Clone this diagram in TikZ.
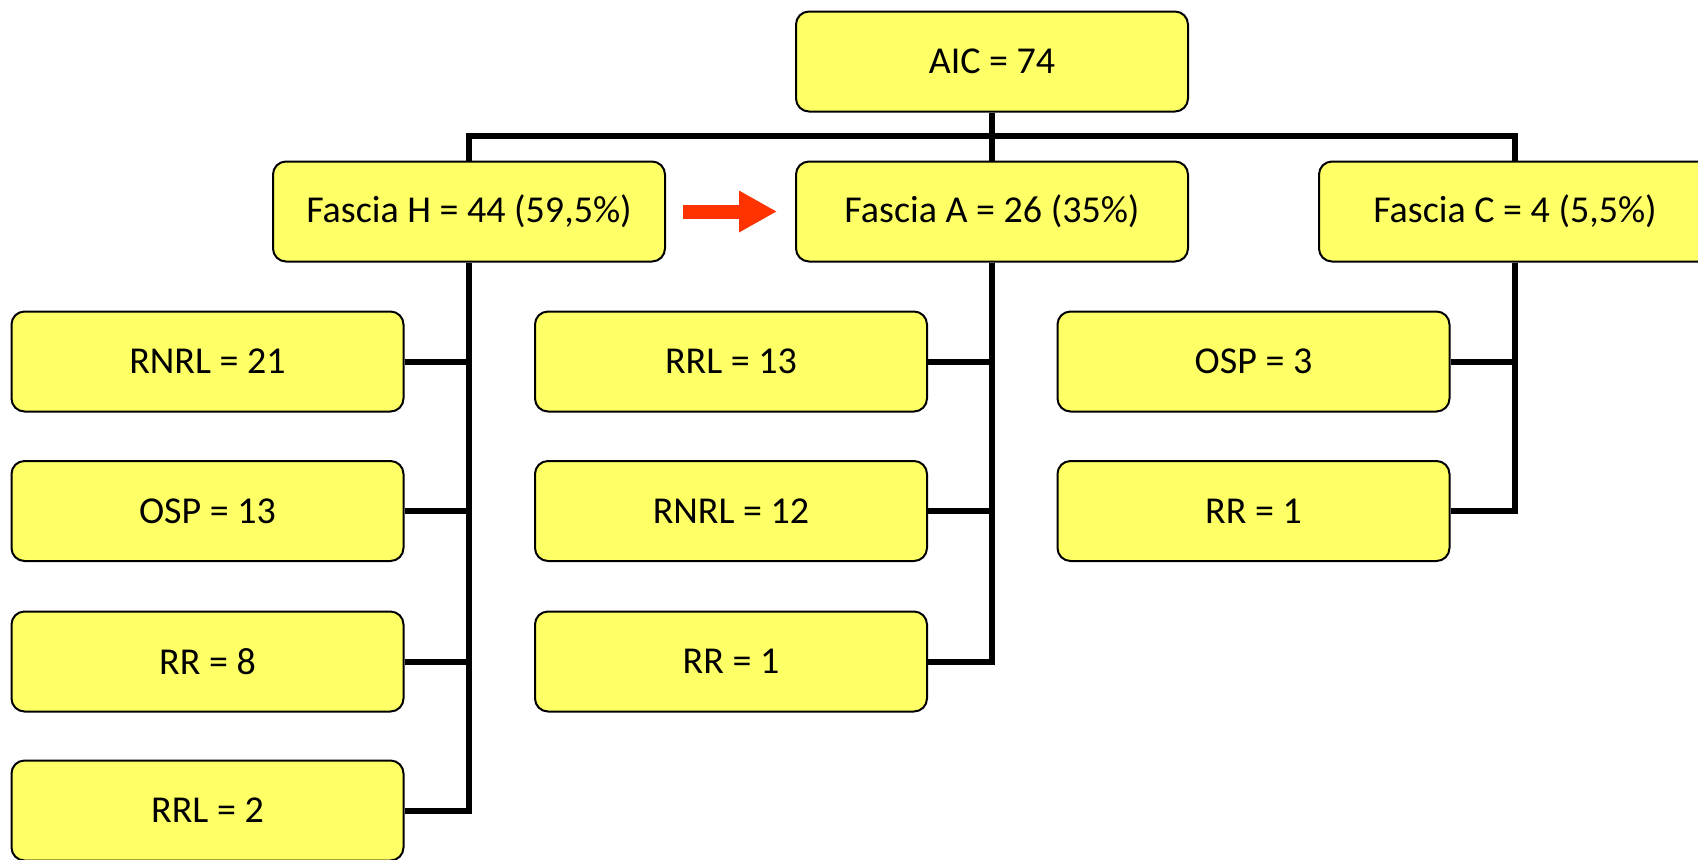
\documentclass[tikz,border=0pt]{standalone}
\usepackage{fontspec}
\setmainfont{Carlito}
\usetikzlibrary{arrows.meta,calc}
\definecolor{boxfill}{HTML}{FFFF66}
\definecolor{arrowred}{HTML}{FF3300}
\begin{document}
\begin{tikzpicture}[x=0.5pt,y=-0.5pt,
  box/.style={draw=black,line width=1pt,fill=boxfill,rounded corners=6.5pt,
    minimum width=196pt,minimum height=50pt,inner sep=0pt,
    font=\fontsize{19pt}{22pt}\selectfont},
  conn/.style={draw=black,line width=3pt}]
\useasboundingbox (0,0) rectangle (1698,859);
\node[box] (aic) at (992,61.5) {AIC = 74};
\node[box] (fh) at (469,211.5) {Fascia H = 44 (59,5\%)};
\node[box] (fa) at (992,211.5) {Fascia A = 26 (35\%)};
\node[box] (fc) at (1515,211.5) {Fascia C = 4 (5,5\%)};
\node[box] (h1) at (207.5,361.5) {RNRL = 21};
\node[box] (h2) at (207.5,511) {OSP = 13};
\node[box] (h3) at (207.5,661.5) {RR = 8};
\node[box] (h4) at (207.5,810.5) {RRL = 2};
\node[box] (a1) at (731,361.5) {RRL = 13};
\node[box] (a2) at (731,511) {RNRL = 12};
\node[box] (a3) at (731,661.5) {RR = 1};
\node[box] (c1) at (1253.5,361.5) {OSP = 3};
\node[box] (c2) at (1253.5,511) {RR = 1};
\coordinate (bar) at (992,136);
% top connectors
\draw[conn] (aic.south) -- (fa.north);
\draw[conn] (fh.north) -- (fh.north |- bar) -- (fc.north |- bar) -- (fc.north);
% Fascia H branch
\draw[conn] (fh.south) -- (fh.south |- h4.east) -- (h4.east);
\draw[conn] (h1.east) -- (h1.east -| fh.south);
\draw[conn] (h2.east) -- (h2.east -| fh.south);
\draw[conn] (h3.east) -- (h3.east -| fh.south);
% Fascia A branch
\draw[conn] (fa.south) -- (fa.south |- a3.east) -- (a3.east);
\draw[conn] (a1.east) -- (a1.east -| fa.south);
\draw[conn] (a2.east) -- (a2.east -| fa.south);
% Fascia C branch
\draw[conn] (fc.south) -- (fc.south |- c2.east) -- (c2.east);
\draw[conn] (c1.east) -- (c1.east -| fc.south);
% red arrow
\draw[arrowred,line width=7pt,-{Triangle[length=19pt,width=19.5pt]}]
  ($(fh.east)+(17,0)$) -- ($(fa.west)+(-18,0)$);
\end{tikzpicture}
\end{document}
